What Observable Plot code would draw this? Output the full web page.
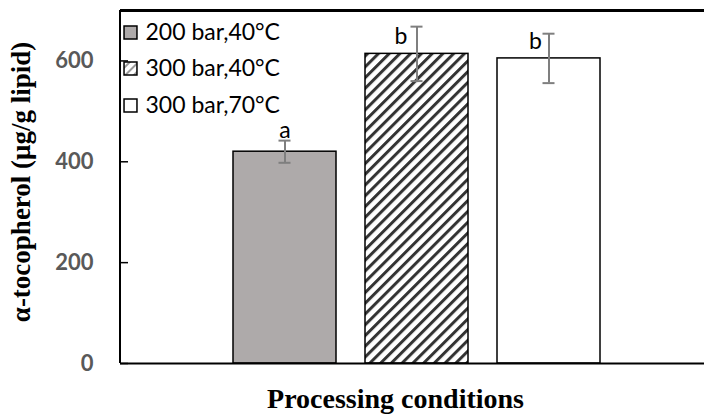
<!DOCTYPE html>
<html>
<head>
<meta charset="utf-8">
<script src="https://cdn.jsdelivr.net/npm/d3@7"></script>
<script src="https://cdn.jsdelivr.net/npm/@observablehq/plot@0.6"></script>
<style>
  html, body { margin: 0; padding: 0; background: #ffffff; }
  #chart { width: 704px; height: 415px; overflow: hidden; }
</style>
</head>
<body>
<div id="chart"></div>
<script>
// Processing conditions and α-tocopherol content (μg/g lipid), mean ± SD
const conditions = ["200 bar,40°C", "300 bar,40°C", "300 bar,70°C"];
const means = [420, 614, 605];
const sds = [22, 54, 49];
const letters = ["a", "b", "b"];
const yTicks = [0, 200, 400, 600];

// Bar fills (solid grey, diagonal hatch, white)
const fills = ["#aeaaaa", "url(#hatch)", "#ffffff"];
const swatchFills = ["#aeaaaa", "url(#hatchSmall)", "#ffffff"];

const rows = conditions.map((c, i) => ({
  condition: c,
  mean: means[i],
  lo: means[i] - sds[i],
  hi: means[i] + sds[i],
  letter: letters[i],
  fill: fills[i],
  swatch: swatchFills[i]
}));

const W = 704, H = 415;
const mLeft = 120, mRight = 0, mTop = 10, mBottom = 52;

const sans = "Lato, 'Open Sans', sans-serif";
const serif = "'Liberation Serif', 'DejaVu Serif', serif";

// significance letters, each nudged next to its error bar
const letterMark = (i, dx, dy) =>
  Plot.text([rows[i]], {
    x: "condition", y: "hi", text: "letter",
    dx, dy, lineAnchor: "bottom", textAnchor: "middle",
    fontSize: 23, fontFamily: sans, fill: "#000000"
  });

// left axis line drawn along the frame's left edge
const leftLine = (index, scales, values, dims) => {
  const line = document.createElementNS("http://www.w3.org/2000/svg", "line");
  line.setAttribute("x1", dims.marginLeft);
  line.setAttribute("x2", dims.marginLeft);
  line.setAttribute("y1", dims.marginTop);
  line.setAttribute("y2", dims.height - dims.marginBottom);
  line.setAttribute("stroke", "#000000");
  line.setAttribute("stroke-width", 2);
  return line;
};

// legend rows inside the plot's top-left corner
const legendRows = [22, 58, 95];

const chart = Plot.plot({
  width: W,
  height: H,
  marginLeft: mLeft,
  marginRight: mRight,
  marginTop: mTop,
  marginBottom: mBottom,
  style: { background: "#ffffff", overflow: "hidden" },
  x: { type: "band", domain: conditions, range: [203.96, 629.0], padding: 0.22, axis: null },
  y: { domain: [0, 700], axis: null },
  color: { type: "identity" },
  marks: [
    Plot.barY(rows, {
      x: "condition", y: "mean", fill: "fill",
      stroke: "#000000", strokeWidth: 1.5
    }),
    // error bars
    Plot.ruleX(rows, { x: "condition", y1: "lo", y2: "hi", stroke: "#7f7f7f", strokeWidth: 2 }),
    Plot.tickY(rows, { x: "condition", y: "hi", stroke: "#7f7f7f", strokeWidth: 2, insetLeft: 45.5, insetRight: 45.5 }),
    Plot.tickY(rows, { x: "condition", y: "lo", stroke: "#7f7f7f", strokeWidth: 2, insetLeft: 45.5, insetRight: 45.5 }),
    letterMark(0, 0, -3),
    letterMark(1, -16, 17),
    letterMark(2, -13.5, 15),
    // axis lines: bottom, heavier top, left
    Plot.ruleY([0], { stroke: "#000000", strokeWidth: 2 }),
    Plot.ruleY([700], { stroke: "#000000", strokeWidth: 3 }),
    leftLine,
    // inward y ticks
    Plot.ruleY(yTicks, { stroke: "#000000", strokeWidth: 1.5, insetRight: W - mLeft - mRight - 8 }),
    Plot.axisY({
      ticks: yTicks, tickSize: 0, tickPadding: 27,
      fontSize: 22, fontWeight: "bold", fontFamily: sans, fill: "#595959", label: null
    }),
    // legend
    ...rows.map((r, i) => Plot.dot([r], {
      frameAnchor: "top-left", dx: 10, dy: legendRows[i],
      symbol: "square", r: 7.3, fill: "swatch", stroke: "#000000", strokeWidth: 1.5
    })),
    ...rows.map((r, i) => Plot.text([r], {
      frameAnchor: "top-left", dx: 25, dy: legendRows[i],
      text: "condition", textAnchor: "start", lineAnchor: "middle",
      fontSize: 23, fontFamily: sans, fill: "#000000"
    })),
    // axis titles
    Plot.text(["α-tocopherol (μg/g lipid)"], {
      frameAnchor: "left", dx: -99, dy: -5, rotate: -90,
      textAnchor: "middle", lineAnchor: "middle",
      fontSize: 27, fontWeight: "bold", fontFamily: serif, fill: "#000000"
    }),
    Plot.text(["Processing conditions"], {
      frameAnchor: "bottom", dx: -17, dy: 36,
      textAnchor: "middle", lineAnchor: "middle",
      fontSize: 28, fontWeight: "bold", fontFamily: serif, fill: "#000000"
    })
  ]
});

// diagonal hatch patterns for the bar and its legend swatch
const defs = d3.select(chart).insert("defs", ":first-child");
const hatch = defs.append("pattern")
  .attr("id", "hatch")
  .attr("patternUnits", "userSpaceOnUse")
  .attr("width", 7.6).attr("height", 7.6)
  .attr("patternTransform", "rotate(45)");
hatch.append("rect").attr("width", 7.6).attr("height", 7.6).attr("fill", "#ffffff");
hatch.append("rect").attr("width", 3).attr("height", 7.6).attr("fill", "#333333");
const hatchSmall = defs.append("pattern")
  .attr("id", "hatchSmall")
  .attr("patternUnits", "userSpaceOnUse")
  .attr("width", 6).attr("height", 6)
  .attr("patternTransform", "rotate(45)");
hatchSmall.append("rect").attr("width", 6).attr("height", 6).attr("fill", "#ffffff");
hatchSmall.append("rect").attr("width", 2).attr("height", 6).attr("fill", "#9a9a9a");

document.getElementById("chart").appendChild(chart);
</script>
</body>
</html>
